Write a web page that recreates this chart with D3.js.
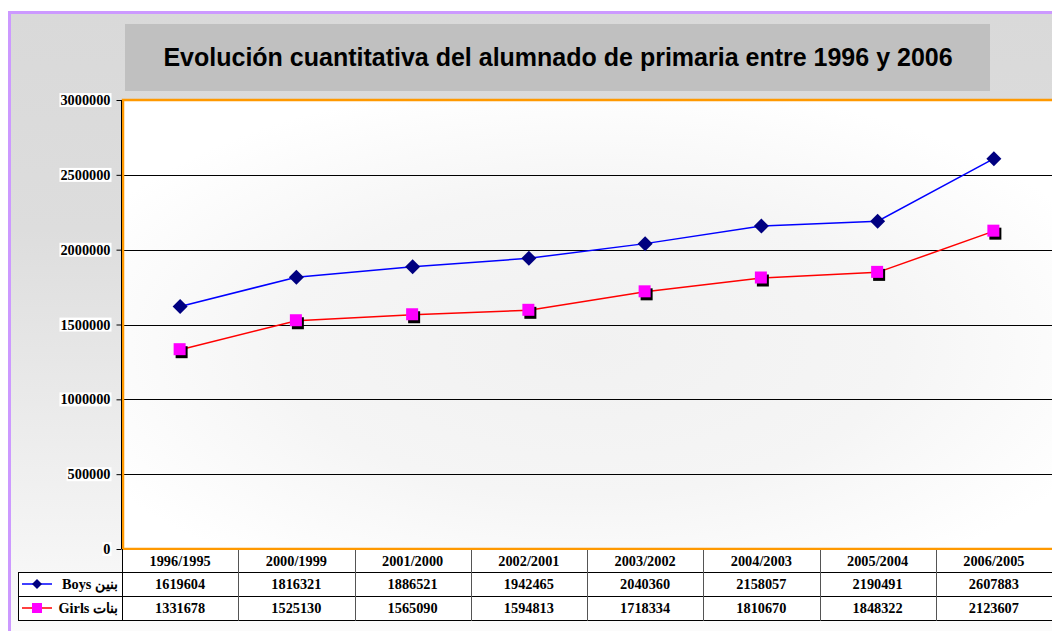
<!DOCTYPE html>
<html>
<head>
<meta charset="utf-8">
<script src="https://cdn.jsdelivr.net/npm/d3@7"></script>
<style>
  html, body { margin: 0; padding: 0; background: #fff; }
  svg { display: block; }
</style>
</head>
<body>
<svg id="chart" width="1052" height="631"></svg>
<script>
// data
const categories = ['1996/1995', '2000/1999', '2001/2000', '2002/2001', '2003/2002', '2004/2003', '2005/2004', '2006/2005'];
const boys = [1619604, 1816321, 1886521, 1942465, 2040360, 2158057, 2190491, 2607883];
const girls = [1331678, 1525130, 1565090, 1594813, 1718334, 1810670, 1848322, 2123607];
const yTicks = [0, 500000, 1000000, 1500000, 2000000, 2500000, 3000000];
const series = [
  {name: 'Boys', arabic: 'بنين', values: boys, line: '#0000ff', marker: 'diamond', fill: '#000080'},
  {name: 'Girls', arabic: 'بنات', values: girls, line: '#ff0000', marker: 'square', fill: '#ff00ff'}
];

const svg = d3.select('#chart');
const W = 1052, H = 631;
const plot = {left: 122, right: 1052, top: 100, bottom: 549};
const rowH = [23, 24, 24];
const serif = 'Liberation Serif, Times New Roman, serif';
const fs = 14.3;

const defs = svg.append('defs');
const bg = defs.append('linearGradient').attr('id', 'bg').attr('x1', 0).attr('y1', 0).attr('x2', 0).attr('y2', 1);
bg.append('stop').attr('offset', '0%').attr('stop-color', '#d9d9d9');
bg.append('stop').attr('offset', '35%').attr('stop-color', '#dddddd');
bg.append('stop').attr('offset', '100%').attr('stop-color', '#fbfbfb');
const pg = defs.append('radialGradient').attr('id', 'pg').attr('cx', '50%').attr('cy', '55%').attr('r', '60%');
pg.append('stop').attr('offset', '0%').attr('stop-color', '#f1f1f1');
pg.append('stop').attr('offset', '55%').attr('stop-color', '#f5f5f5');
pg.append('stop').attr('offset', '100%').attr('stop-color', '#ffffff');

// outer frame
svg.append('rect').attr('x', 10).attr('y', 13).attr('width', W - 10).attr('height', H - 13).attr('fill', 'url(#bg)');
svg.append('line').attr('x1', 9.5).attr('x2', 9.5).attr('y1', 12).attr('y2', H).attr('stroke', '#cc99ff').attr('stroke-width', 3);
svg.append('line').attr('x1', 8).attr('x2', W).attr('y1', 12.5).attr('y2', 12.5).attr('stroke', '#cc99ff').attr('stroke-width', 3);

// title
svg.append('rect').attr('x', 125).attr('y', 24).attr('width', 865).attr('height', 67).attr('fill', '#c0c0c0');
svg.append('text')
  .attr('x', 558).attr('y', 66)
  .attr('text-anchor', 'middle')
  .attr('font-family', 'Liberation Sans, Arial, sans-serif')
  .attr('font-weight', 'bold').attr('font-size', 25)
  .text('Evolución cuantitativa del alumnado de primaria entre 1996 y 2006');

// scales
const x = d3.scaleBand().domain(categories).range([plot.left, plot.right]);
const y = d3.scaleLinear().domain([0, 3000000]).range([plot.bottom, plot.top]);

// plot area
svg.append('rect')
  .attr('x', plot.left).attr('y', plot.top)
  .attr('width', plot.right - plot.left).attr('height', plot.bottom - plot.top)
  .attr('fill', 'url(#pg)');

svg.append('g').selectAll('line')
  .data(yTicks.slice(1, -1))
  .join('line')
  .attr('x1', plot.left).attr('x2', plot.right)
  .attr('y1', d => Math.round(y(d)) + 0.5).attr('y2', d => Math.round(y(d)) + 0.5)
  .attr('stroke', '#000').attr('stroke-width', 1);

// orange border
svg.append('path')
  .attr('d', `M${plot.right},${plot.top} H${plot.left + 1} V${plot.bottom} H${plot.right}`)
  .attr('fill', 'none').attr('stroke', '#ff9900').attr('stroke-width', 2.5);

// y axis
const yAxis = svg.append('g')
  .attr('transform', `translate(${plot.left - 0.5},0)`)
  .call(d3.axisLeft(y).tickValues(yTicks).tickFormat(d3.format('d')).tickSize(5).tickPadding(6));
yAxis.select('.domain').attr('stroke', '#000').attr('d', `M0,${plot.top}V${plot.bottom}`);
yAxis.selectAll('.tick line').attr('stroke', '#000');
yAxis.selectAll('.tick text')
  .attr('font-family', serif)
  .attr('font-weight', 'bold').attr('font-size', fs).attr('fill', '#000');
yAxis.selectAll('.tick').each(function () {
  const t = d3.select(this).select('text');
  const b = t.node().getBBox();
  d3.select(this).insert('rect', 'text')
    .attr('x', b.x - 1).attr('y', b.y + 1).attr('width', b.width + 2).attr('height', b.height - 2)
    .attr('fill', '#fff');
});

// lines and markers
const line = d3.line().x((d, i) => x(categories[i]) + x.bandwidth() / 2).y(d => y(d));
series.forEach(s => {
  svg.append('path').datum(s.values)
    .attr('d', line).attr('fill', 'none').attr('stroke', s.line).attr('stroke-width', 1.5);
  const g = svg.append('g');
  s.values.forEach((v, i) => {
    const cx = x(categories[i]) + x.bandwidth() / 2, cy = y(v);
    if (s.marker === 'diamond') {
      g.append('path')
        .attr('d', `M${cx},${cy - 7.5}L${cx + 7.5},${cy}L${cx},${cy + 7.5}L${cx - 7.5},${cy}Z`)
        .attr('fill', s.fill);
    } else {
      g.append('rect').attr('x', cx - 4.5).attr('y', cy - 3.5).attr('width', 12).attr('height', 12).attr('fill', '#000');
      g.append('rect').attr('x', cx - 6.5).attr('y', cy - 6.5).attr('width', 12).attr('height', 12).attr('fill', s.fill);
    }
  });
});

// data table
const tbl = svg.append('g');
const yRows = [plot.bottom, plot.bottom + rowH[0], plot.bottom + rowH[0] + rowH[1], plot.bottom + rowH[0] + rowH[1] + rowH[2]];
const tLeft = 18;

tbl.append('rect').attr('x', tLeft).attr('y', yRows[1]).attr('width', W - tLeft).attr('height', yRows[3] - yRows[1]).attr('fill', '#fff');
tbl.append('rect').attr('x', plot.left).attr('y', yRows[0] + 1).attr('width', W - plot.left).attr('height', rowH[0]).attr('fill', '#fff');

// horizontal rules
[[plot.left, yRows[1]], [tLeft, yRows[1]], [tLeft, yRows[2]], [tLeft, yRows[3]]].forEach(([x0, yy]) => {
  tbl.append('line').attr('x1', x0).attr('x2', W).attr('y1', yy + 0.5).attr('y2', yy + 0.5).attr('stroke', '#000');
});
// vertical rules
tbl.append('line').attr('x1', tLeft + 0.5).attr('x2', tLeft + 0.5).attr('y1', yRows[1]).attr('y2', yRows[3] + 1).attr('stroke', '#000');
tbl.selectAll('.vr').data(categories).join('line')
  .attr('x1', d => Math.round(x(d)) + 0.5).attr('x2', d => Math.round(x(d)) + 0.5)
  .attr('y1', d => d === categories[0] ? yRows[0] : yRows[0] + 1).attr('y2', yRows[3] + 1)
  .attr('stroke', d => d === categories[0] ? '#000' : '#555');

tbl.selectAll('.hdr').data(categories).join('text')
  .attr('x', d => x(d) + x.bandwidth() / 2).attr('y', yRows[0] + 17)
  .attr('text-anchor', 'middle').attr('font-family', serif).attr('font-weight', 'bold').attr('font-size', fs)
  .text(d => d);

series.forEach((s, r) => {
  const ty = yRows[r + 1] + 17;
  tbl.selectAll(null).data(s.values).join('text')
    .attr('x', (d, i) => x(categories[i]) + x.bandwidth() / 2).attr('y', ty)
    .attr('text-anchor', 'middle').attr('font-family', serif).attr('font-weight', 'bold').attr('font-size', fs)
    .text(d => d);
  const my = yRows[r + 1] + rowH[r + 1] / 2;
  tbl.append('line').attr('x1', 22).attr('x2', 52).attr('y1', my).attr('y2', my).attr('stroke', s.line).attr('stroke-width', 1.5);
  if (s.marker === 'diamond') {
    tbl.append('path').attr('d', `M37,${my - 5}L42,${my}L37,${my + 5}L32,${my}Z`).attr('fill', s.fill);
  } else {
    tbl.append('rect').attr('x', 32).attr('y', my - 5).attr('width', 10).attr('height', 10).attr('fill', s.fill);
  }
  tbl.append('text')
    .attr('x', 118).attr('y', ty)
    .attr('text-anchor', 'end').attr('font-family', serif).attr('font-weight', 'bold').attr('font-size', fs)
    .text(s.name + ' ' + s.arabic);
});
</script>
</body>
</html>
